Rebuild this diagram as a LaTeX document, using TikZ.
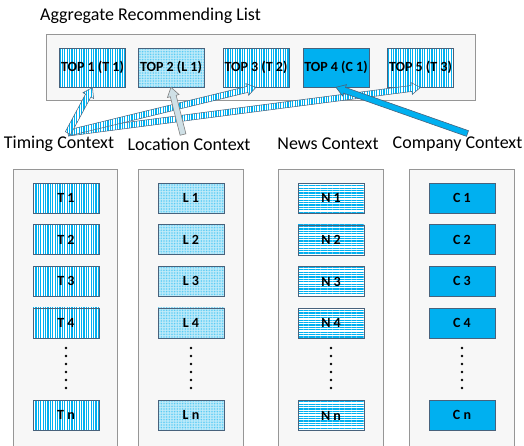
\documentclass[tikz,border=0pt]{standalone}
\usepackage{fontspec}
\setmainfont{Carlito}
\usetikzlibrary{positioning, calc, patterns.meta}

\definecolor{cblue}{RGB}{0,176,240}
\definecolor{lcyan}{RGB}{196,236,250}
\definecolor{bline}{RGB}{72,98,124}
\definecolor{pline}{RGB}{150,150,150}

% block arrow from #2 to #3, style #1
\newcommand\fatarrow[3]{%
	\coordinate (fa-h) at ($(#3)!9pt!(#2)$);
	\filldraw[#1] ($(#2)!3pt!90:(#3)$) -- ($(fa-h)!3pt!90:(#3)$) -- ($(fa-h)!6pt!90:(#3)$) -- (#3)
		-- ($(fa-h)!6pt!-90:(#3)$) -- ($(fa-h)!3pt!-90:(#3)$) -- ($(#2)!3pt!-90:(#3)$) -- cycle;
}

\begin{document}
\begin{tikzpicture}[x=1pt, y=-1pt,
	panel/.style={draw=pline, fill=gray!6, line width=0.7pt},
	item/.style={draw=bline, line width=0.6pt, minimum width=66pt, minimum height=30pt, inner sep=0pt, font=\fontsize{14}{16}\selectfont\bfseries},
	topitem/.style={item, minimum height=39pt},
	tfill/.style={preaction={fill=white}, pattern={Lines[angle=90, distance=2.4pt, line width=1.2pt]}, pattern color=cblue},
	lfill/.style={preaction={fill=lcyan}, pattern={Dots[distance=1.6pt, radius=0.45pt]}, pattern color=cblue!80},
	nfill/.style={preaction={fill=white}, pattern={Lines[angle=0, distance=2.4pt, line width=1.2pt]}, pattern color=cblue},
	cfill/.style={fill=cblue},
	ctx/.style={font=\fontsize{18}{20}\selectfont, inner sep=0pt},
	tarrow/.style={draw=bline, line width=0.5pt, tfill},
	larrow/.style={draw=gray, line width=0.6pt, fill=lcyan!70!gray!60},
	carrow/.style={draw=bline, line width=0.6pt, fill=cblue}]
	\useasboundingbox (0,0) rectangle (524,445);

	\node[ctx] (title) at (150.5,16) {Aggregate Recommending List};
	\draw[panel] (46,34) rectangle (475,100);
	\node[topitem, tfill] (top1) at (92.5,67.5) {TOP 1 (T 1)};
	\node[topitem, lfill] (top2) at (171,67.5) {TOP 2 (L 1)};
	\node[topitem, tfill] (top3) at (256,67.5) {TOP 3 (T 2)};
	\node[topitem, cfill] (top4) at (336,67.5) {TOP 4 (C 1)};
	\node[topitem, tfill] (top5) at (420.5,67.5) {TOP 5 (T 3)};

	\node[ctx] (timlab) at (59,144) {Timing Context};
	\node[ctx] (loclab) at (189,144) {Location Context};
	\node[ctx] (newlab) at (328,144) {News Context};
	\node[ctx] (comlab) at (457.5,144) {Company Context};

	\draw[panel] (13,169) rectangle (117,447);
	\draw[panel] (138,169) rectangle (243,447);
	\draw[panel] (278,169) rectangle (383,447);
	\draw[panel] (409,169) rectangle (514,447);

	\node[item, tfill] (t1) at (66,198) {T 1};
	\node[item, tfill, below=11pt of t1] (t2) {T 2};
	\node[item, tfill, below=11pt of t2] (t3) {T 3};
	\node[item, tfill, below=11pt of t3] (t4) {T 4};
	\node[item, tfill, below=62pt of t4] (tn) {T n};

	\node[item, lfill] (l1) at (191,198) {L 1};
	\node[item, lfill, below=11pt of l1] (l2) {L 2};
	\node[item, lfill, below=11pt of l2] (l3) {L 3};
	\node[item, lfill, below=11pt of l3] (l4) {L 4};
	\node[item, lfill, below=62pt of l4] (ln) {L n};

	\node[item, nfill] (n1) at (331,198) {N 1};
	\node[item, nfill, below=11pt of n1] (n2) {N 2};
	\node[item, nfill, below=11pt of n2] (n3) {N 3};
	\node[item, nfill, below=11pt of n3] (n4) {N 4};
	\node[item, nfill, below=62pt of n4] (nn) {N n};

	\node[item, cfill] (c1) at (462,198) {C 1};
	\node[item, cfill, below=11pt of c1] (c2) {C 2};
	\node[item, cfill, below=11pt of c2] (c3) {C 3};
	\node[item, cfill, below=11pt of c3] (c4) {C 4};
	\node[item, cfill, below=62pt of c4] (cn) {C n};

	\foreach \x in {66,191,331,462}
		\foreach \y in {348,356,...,388}
			\fill (\x,\y) circle (1.3pt);

	\coordinate (tsrc) at ([xshift=9pt, yshift=3pt]timlab.north);
	\coordinate (lsrc) at ([xshift=-6pt, yshift=3pt]loclab.north);
	\coordinate (csrc) at ([xshift=10pt, yshift=3pt]comlab.north);

	\fatarrow{tarrow}{tsrc}{top5.south}
	\fatarrow{tarrow}{tsrc}{top3.south}
	\fatarrow{tarrow}{tsrc}{top1.south}
	\fatarrow{larrow}{lsrc}{top2.south}
	\fatarrow{carrow}{csrc}{top4.south}
\end{tikzpicture}
\end{document}
